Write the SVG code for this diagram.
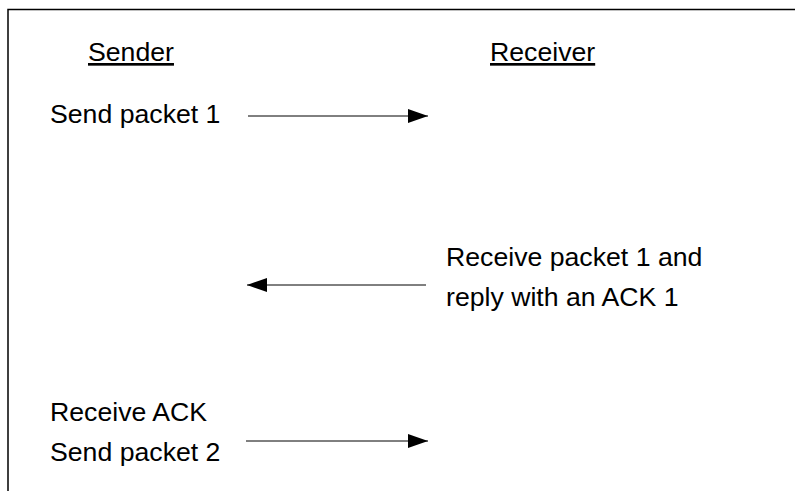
<svg xmlns="http://www.w3.org/2000/svg" width="795" height="491" viewBox="0 0 795 491">
<style>
text{font-family:"Liberation Sans",Arial,sans-serif;font-size:26.67px;fill:#000}
.u{text-decoration:underline}
.c{stroke:#000;stroke-width:1;fill:none}
</style>
<defs>
<marker id="ah" viewBox="0 0 20 14" refX="20" refY="7" markerWidth="20" markerHeight="14" markerUnits="userSpaceOnUse" orient="auto">
<path d="M0,0 L20,7 L0,14 Z" fill="#000"/>
</marker>
</defs>
<rect width="795" height="491" fill="#fff"/>
<path d="M8,491 V9.5 H795" stroke="#000" stroke-width="1.5" fill="none"/>
<g id="sender-head"><text x="88" y="61" class="u">Sender</text></g>
<g id="receiver-head"><text x="490" y="61" class="u">Receiver</text></g>
<g id="send1"><text x="50" y="123">Send packet 1</text></g>
<g id="recv1"><text x="446" y="266">Receive packet 1 and</text><text x="446" y="306">reply with an ACK 1</text></g>
<g id="send2"><text x="50" y="421">Receive ACK</text><text x="50" y="461">Send packet 2</text></g>
<g id="connectors">
<line class="c" x1="248" y1="116" x2="428" y2="116" marker-end="url(#ah)"/>
<line class="c" x1="426" y1="285" x2="247" y2="285" marker-end="url(#ah)"/>
<line class="c" x1="246" y1="441" x2="428" y2="441" marker-end="url(#ah)"/>
</g>
</svg>
